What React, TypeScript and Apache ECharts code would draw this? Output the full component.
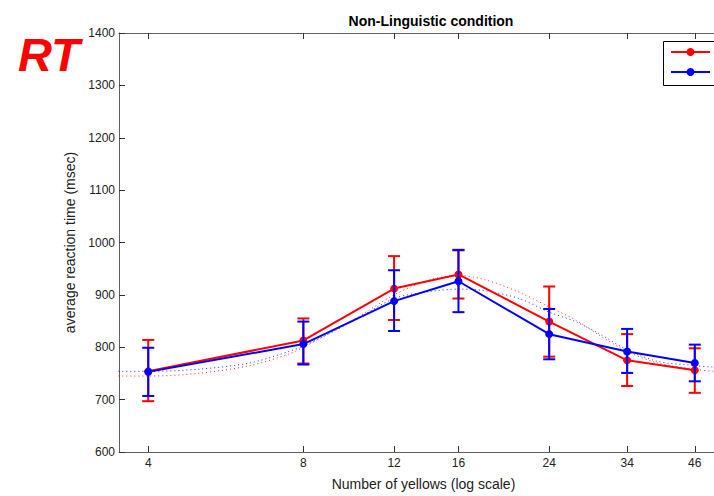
import React, { useEffect, useRef } from "react";
import * as echarts from "echarts";

// Number of yellows (x categories on a log scale)
const counts = [4, 8, 12, 16, 24, 34, 46];
const tickCounts = [4, 8, 12, 16, 24, 34, 46];
const yTicks = [600, 700, 800, 900, 1000, 1100, 1200, 1300, 1400];

// Red condition: mean and error-bar bounds (msec)
const redMean = [754, 813, 912, 939, 849, 775, 756];
const redLow = [697, 769, 852, 893, 782, 726, 713];
const redHigh = [814, 855, 974, 985, 916, 825, 798];

// Blue condition: mean and error-bar bounds (msec)
const blueMean = [753, 806, 888, 926, 825, 792, 770];
const blueLow = [707, 767, 831, 867, 777, 751, 735];
const blueHigh = [799, 849, 947, 986, 873, 835, 805];

// Dotted fitted curves
const fitCounts = [3.5, 4, 5, 6.3, 7.5, 8, 10, 12, 14, 16, 18, 21, 24, 27, 30, 34, 39, 46, 50, 57];
const redFit = [745, 745, 750, 765, 787, 800, 852, 900, 928, 937, 929, 905, 877, 852, 823, 792, 770, 758, 754, 752];
const blueFit = [754, 754, 758, 770, 792, 802, 850, 893, 906, 911, 908, 893, 867, 849, 826, 795, 773, 765, 762, 760];

const RED = "#ff0000";
const BLUE = "#0000ff";
const FONT = "'Liberation Sans', Arial, sans-serif";

function errRender(color: string) {
  return (params: any, api: any) => {
    const x = api.value(0);
    const lo = api.value(1);
    const hi = api.value(2);
    const top = api.coord([x, hi]);
    const bot = api.coord([x, lo]);
    const hw = 6;
    const st = { stroke: color, lineWidth: 2 };
    return {
      type: "group",
      children: [
        { type: "line", shape: { x1: top[0], y1: top[1], x2: bot[0], y2: bot[1] }, style: st },
        { type: "line", shape: { x1: top[0] - hw, y1: top[1], x2: top[0] + hw, y2: top[1] }, style: st },
        { type: "line", shape: { x1: bot[0] - hw, y1: bot[1], x2: bot[0] + hw, y2: bot[1] }, style: st },
      ],
    };
  };
}

export default function App() {
  const ref = useRef<HTMLDivElement>(null);
  useEffect(() => {
    document.body.style.margin = "0";
    document.body.style.overflow = "hidden";
    const chart = echarts.init(ref.current!, null, { renderer: "svg" });
    const lx = (n: number) => Math.log2(n);
    const axisColor = "#606060";
    const xCommon = {
      type: "value",
      min: lx(3.51),
      max: lx(56.3),
      splitLine: { show: false },
      axisLine: { show: true, lineStyle: { color: axisColor, width: 1 } },
      axisTick: {
        show: true,
        inside: true,
        length: 6,
        customValues: tickCounts.map(lx),
        lineStyle: { color: "#333" },
      },
    };
    chart.setOption({
      animation: false,
      backgroundColor: "#ffffff",
      title: {
        text: "Non-Linguistic condition",
        left: 426,
        textAlign: "center",
        top: 9,
        textStyle: { fontSize: 14, fontWeight: "bold", color: "#000", fontFamily: FONT },
      },
      grid: { left: 119, top: 33, right: 0, bottom: 40 },
      xAxis: [
        {
          ...xCommon,
          position: "bottom",
          name: "Number of yellows (log scale)",
          nameLocation: "middle",
          nameGap: 25,
          nameTextStyle: { fontSize: 14, color: "#222", fontFamily: FONT, padding: [0, 12, 0, 0] },
          axisLabel: {
            show: true,
            customValues: tickCounts.map(lx),
            formatter: (v: number) => String(Math.round(Math.pow(2, v))),
            fontSize: 12,
            color: "#222",
            fontFamily: FONT,
            margin: 5,
          },
        },
        {
          ...xCommon,
          position: "top",
          axisLabel: { show: false },
        },
      ],
      yAxis: {
        type: "value",
        min: 600,
        max: 1400,
        interval: 100,
        name: "average reaction time (msec)",
        nameLocation: "middle",
        nameGap: 22,
        nameTextStyle: { fontSize: 14, color: "#222", fontFamily: FONT },
        splitLine: { show: false },
        axisLine: { show: true, lineStyle: { color: axisColor, width: 1 } },
        axisTick: { show: true, inside: true, length: 6, lineStyle: { color: "#333" } },
        axisLabel: {
          fontSize: 12,
          color: "#222",
          fontFamily: FONT,
          margin: 4,
          customValues: yTicks,
          formatter: (v: number) => String(v),
        },
      },
      series: [
        {
          type: "line",
          name: "red fit",
          data: fitCounts.map((c, i) => [lx(c), redFit[i]]),
          smooth: 0.3,
          showSymbol: false,
          lineStyle: { color: RED, width: 1, type: [1, 3], opacity: 0.85 },
          z: 1,
        },
        {
          type: "line",
          name: "blue fit",
          data: fitCounts.map((c, i) => [lx(c), blueFit[i]]),
          smooth: 0.3,
          showSymbol: false,
          lineStyle: { color: BLUE, width: 1, type: [1, 3], opacity: 0.85 },
          z: 1,
        },
        {
          type: "custom",
          name: "red err",
          renderItem: errRender(RED),
          data: counts.map((c, i) => [lx(c), redLow[i], redHigh[i]]),
          z: 2,
        },
        {
          type: "line",
          name: "red",
          data: counts.map((c, i) => [lx(c), redMean[i]]),
          symbol: "circle",
          symbolSize: 8,
          itemStyle: { color: RED },
          lineStyle: { color: RED, width: 2 },
          z: 3,
        },
        {
          type: "custom",
          name: "blue err",
          renderItem: errRender(BLUE),
          data: counts.map((c, i) => [lx(c), blueLow[i], blueHigh[i]]),
          z: 4,
        },
        {
          type: "line",
          name: "blue",
          data: counts.map((c, i) => [lx(c), blueMean[i]]),
          symbol: "circle",
          symbolSize: 8,
          itemStyle: { color: BLUE },
          lineStyle: { color: BLUE, width: 2 },
          z: 5,
        },
      ],
      graphic: [
        {
          type: "text",
          x: 18,
          y: 54,
          style: {
            text: "RT",
            fill: RED,
            font: `italic bold 47px ${FONT}`,
            verticalAlign: "middle",
          },
        },
        {
          type: "group",
          z: 100,
          children: [
            {
              type: "rect",
              shape: { x: 663.5, y: 41.5, width: 70, height: 44 },
              style: { fill: "#fff", stroke: "#000", lineWidth: 1 },
            },
            { type: "line", shape: { x1: 671, y1: 52, x2: 710, y2: 52 }, style: { stroke: RED, lineWidth: 2 } },
            { type: "circle", shape: { cx: 690.5, cy: 52, r: 4 }, style: { fill: RED } },
            { type: "line", shape: { x1: 671, y1: 72, x2: 710, y2: 72 }, style: { stroke: BLUE, lineWidth: 2 } },
            { type: "circle", shape: { cx: 690.5, cy: 72, r: 4 }, style: { fill: BLUE } },
          ],
        },
      ],
    });
    return () => chart.dispose();
  }, []);
  return (
    <div style={{ position: "absolute", left: 0, top: 0, width: 714, height: 496, overflow: "hidden" }}>
      <div ref={ref} style={{ width: 740, height: 496 }} />
    </div>
  );
}
